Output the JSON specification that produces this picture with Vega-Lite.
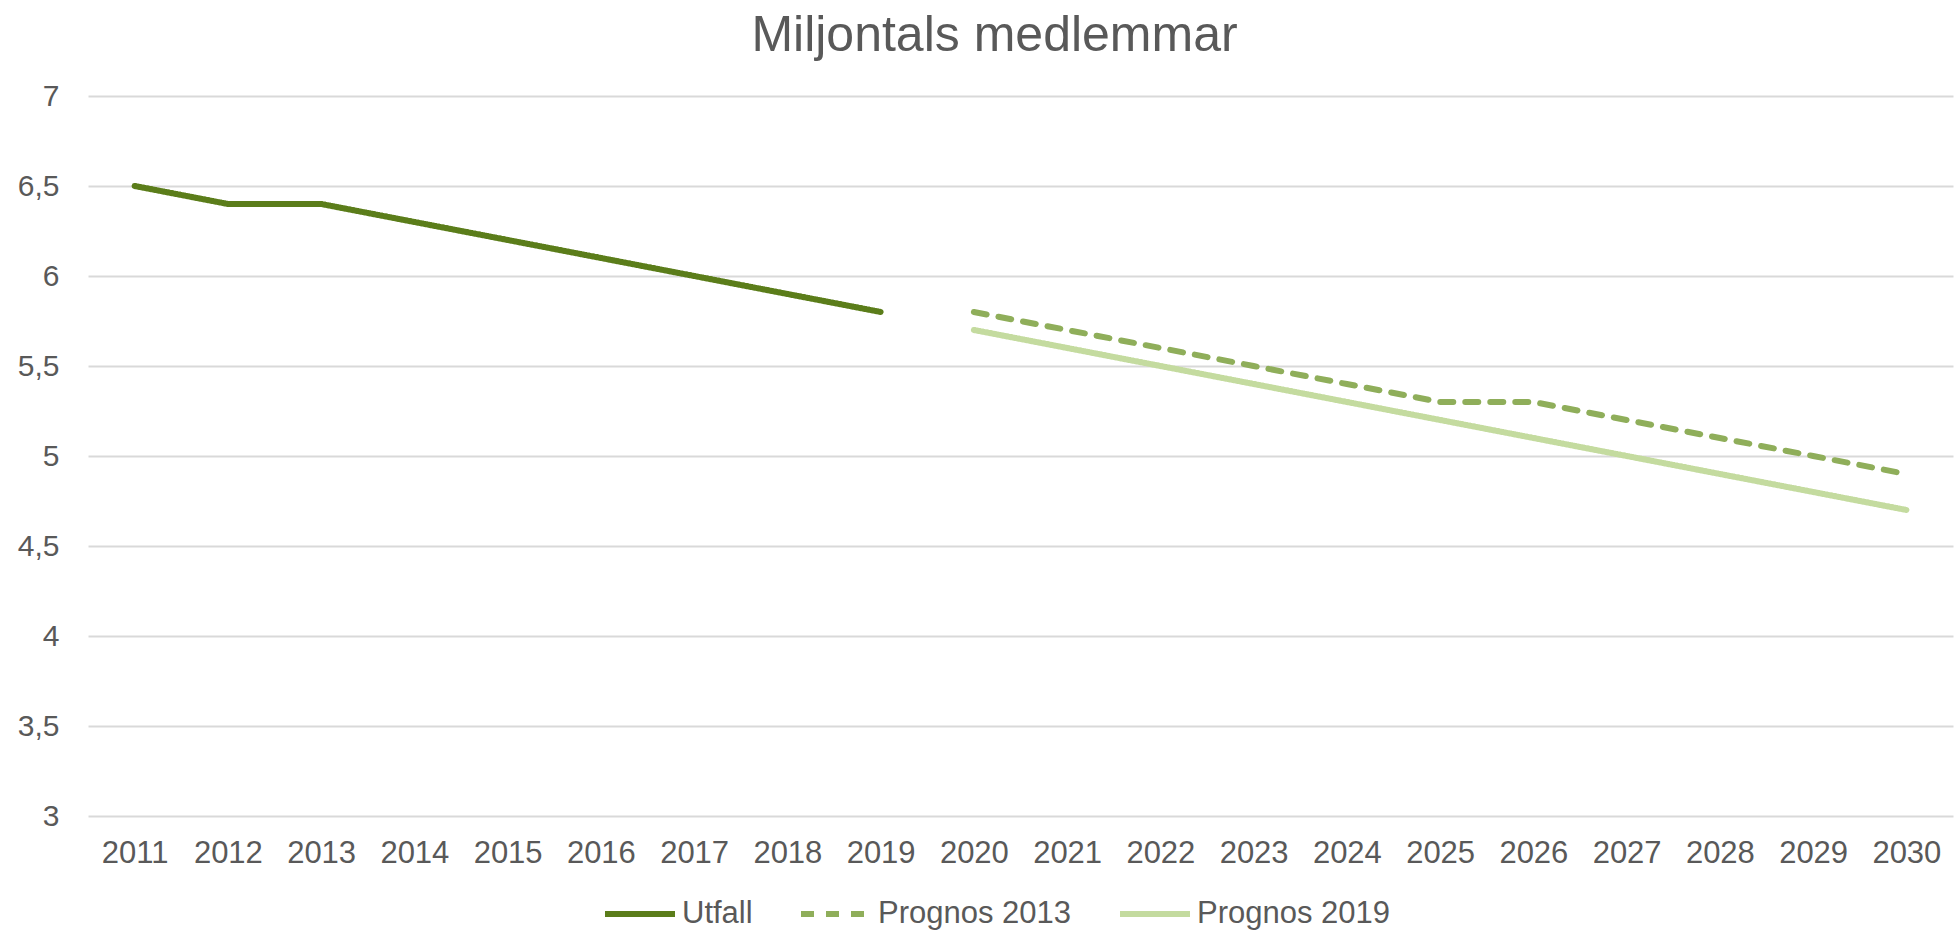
{
  "$schema": "https://vega.github.io/schema/vega-lite/v6.json",
  "width": 1865,
  "height": 720,
  "autosize": {"type": "none"},
  "padding": {"left": 88, "top": 96, "right": 1, "bottom": 116},
  "background": "white",
  "title": {
    "text": "Miljontals medlemmar",
    "font": "Liberation Sans",
    "fontSize": 50,
    "fontWeight": "normal",
    "color": "#595959",
    "anchor": "middle",
    "dx": -26,
    "offset": 20
  },
  "config": {
    "view": {"stroke": null},
    "font": "Liberation Sans"
  },
  "data": {
    "values": [
      {"year": "2011", "serie": "Utfall", "value": 6.5},
      {"year": "2012", "serie": "Utfall", "value": 6.4},
      {"year": "2013", "serie": "Utfall", "value": 6.4},
      {"year": "2014", "serie": "Utfall", "value": 6.3},
      {"year": "2015", "serie": "Utfall", "value": 6.2},
      {"year": "2016", "serie": "Utfall", "value": 6.1},
      {"year": "2017", "serie": "Utfall", "value": 6.0},
      {"year": "2018", "serie": "Utfall", "value": 5.9},
      {"year": "2019", "serie": "Utfall", "value": 5.8},
      {"year": "2020", "serie": "Prognos 2013", "value": 5.8},
      {"year": "2021", "serie": "Prognos 2013", "value": 5.7},
      {"year": "2022", "serie": "Prognos 2013", "value": 5.6},
      {"year": "2023", "serie": "Prognos 2013", "value": 5.5},
      {"year": "2024", "serie": "Prognos 2013", "value": 5.4},
      {"year": "2025", "serie": "Prognos 2013", "value": 5.3},
      {"year": "2026", "serie": "Prognos 2013", "value": 5.3},
      {"year": "2027", "serie": "Prognos 2013", "value": 5.2},
      {"year": "2028", "serie": "Prognos 2013", "value": 5.1},
      {"year": "2029", "serie": "Prognos 2013", "value": 5.0},
      {"year": "2030", "serie": "Prognos 2013", "value": 4.9},
      {"year": "2020", "serie": "Prognos 2019", "value": 5.7},
      {"year": "2021", "serie": "Prognos 2019", "value": 5.6},
      {"year": "2022", "serie": "Prognos 2019", "value": 5.5},
      {"year": "2023", "serie": "Prognos 2019", "value": 5.4},
      {"year": "2024", "serie": "Prognos 2019", "value": 5.3},
      {"year": "2025", "serie": "Prognos 2019", "value": 5.2},
      {"year": "2026", "serie": "Prognos 2019", "value": 5.1},
      {"year": "2027", "serie": "Prognos 2019", "value": 5.0},
      {"year": "2028", "serie": "Prognos 2019", "value": 4.9},
      {"year": "2029", "serie": "Prognos 2019", "value": 4.8},
      {"year": "2030", "serie": "Prognos 2019", "value": 4.7}
    ]
  },
  "mark": {"type": "line", "strokeWidth": 6, "strokeCap": "round", "strokeJoin": "round"},
  "encoding": {
    "x": {
      "field": "year",
      "type": "ordinal",
      "scale": {"type": "point", "padding": 0.5},
      "axis": {
        "title": null,
        "labelAngle": 0,
        "labelFont": "Liberation Sans",
        "labelFontSize": 31,
        "labelColor": "#595959",
        "labelPadding": 22,
        "domain": false,
        "ticks": false,
        "grid": false
      }
    },
    "y": {
      "field": "value",
      "type": "quantitative",
      "scale": {"domain": [3, 7], "nice": false, "zero": false},
      "axis": {
        "title": null,
        "values": [3, 3.5, 4, 4.5, 5, 5.5, 6, 6.5, 7],
        "labelExpr": "replace(toString(datum.value), '.', ',')",
        "labelFont": "Liberation Sans",
        "labelFontSize": 30,
        "labelColor": "#595959",
        "labelPadding": 29,
        "domain": false,
        "ticks": false,
        "grid": true,
        "gridColor": "#d9d9d9",
        "gridWidth": 2
      }
    },
    "color": {
      "field": "serie",
      "type": "nominal",
      "sort": ["Utfall", "Prognos 2013", "Prognos 2019"],
      "scale": {
        "domain": ["Utfall", "Prognos 2013", "Prognos 2019"],
        "range": ["#5b7d1a", "#8fae5a", "#c4db9f"]
      },
      "legend": {
        "title": null,
        "orient": "none",
        "direction": "horizontal",
        "legendX": 514,
        "legendY": 780,
        "symbolType": "stroke",
        "symbolSize": 4900,
        "symbolStrokeWidth": 6,
        "labelFont": "Liberation Sans",
        "labelFontSize": 31,
        "labelColor": "#595959",
        "labelOffset": 4,
        "labelLimit": 400,
        "columnPadding": 36
      }
    },
    "strokeDash": {
      "field": "serie",
      "type": "nominal",
      "sort": ["Utfall", "Prognos 2013", "Prognos 2019"],
      "scale": {
        "domain": ["Utfall", "Prognos 2013", "Prognos 2019"],
        "range": [[1, 0], [13, 12], [1, 0]]
      },
      "legend": {
        "title": null,
        "orient": "none",
        "direction": "horizontal",
        "legendX": 514,
        "legendY": 780,
        "symbolType": "stroke",
        "symbolSize": 4900,
        "symbolStrokeWidth": 6,
        "labelFont": "Liberation Sans",
        "labelFontSize": 31,
        "labelColor": "#595959",
        "labelOffset": 4,
        "labelLimit": 400,
        "columnPadding": 36
      }
    }
  }
}
